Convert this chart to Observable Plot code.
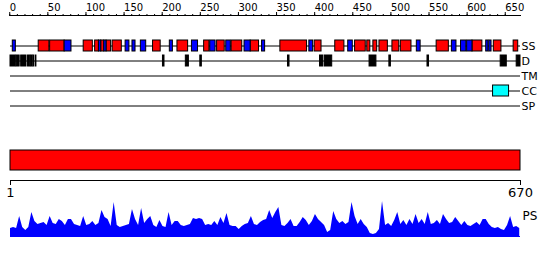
<!DOCTYPE html>
<html><head><meta charset="utf-8">
<script src="https://cdn.jsdelivr.net/npm/d3@7"></script>
<script src="https://cdn.jsdelivr.net/npm/@observablehq/plot@0.6"></script>
<style>
body{margin:0;background:#fff;}
#chart{position:relative;width:550px;height:260px;font-family:"DejaVu Sans",sans-serif;}
#chart svg{position:absolute;left:0;}
</style></head><body><div id="chart"></div>
<script>
const seqLength = 670;
const tracks = ["SS","D","TM","CC","SP"];
const majorTicks = [0,50,100,150,200,250,300,350,400,450,500,550,600,650];
const minorTicks = d3.range(0, 651, 10);
const endTicks = [1, 670];

const helixStart = [38,53,97,112,120,127,135,188,220,255,272,291,316,355,400,427,453,469,477,485,502,513,560,607,635,661];
const helixEnd   = [52,72,109,117,124,133,147,198,234,262,282,305,327,390,409,439,467,473,482,496,511,527,576,620,645,667];
const strandStart = [4,72,117,124,152,161,172,210,239,263,284,308,331,393,444,534,580,592,600,625,629];
const strandEnd   = [8,81,120,127,157,165,179,214,247,270,290,316,335,398,450,539,586,599,607,628,632];
const disorderStart = [1,9,15,24,28,31,34,201,231,250,365,407,413,472,498,548,644,665];
const disorderEnd   = [8,13,22,27,30,32,35,203,235,252,367,411,423,481,500,550,652,670];
const coiledStart = [634];
const coiledEnd = [655];
const tmStart = [], tmEnd = [];
const spStart = [], spEnd = [];

// PS profile, read every 4 residues starting at residue 1
const psValues = [
 8,9,8,20,9,6,9,24,15,12,
 13,14,11,20,13,12,17,15,11,17,
 17,12,11,10,20,11,12,15,11,13,
 26,19,17,10,34,11,9,10,11,12,
 27,17,11,28,13,17,20,11,9,16,
 10,9,24,11,15,15,11,10,11,12,
 18,17,18,17,11,12,11,15,11,19,
 13,23,11,10,10,7,10,12,13,20,
 12,11,14,16,17,26,18,24,29,11,
 10,13,17,10,10,14,19,16,11,15,
 22,17,14,11,4,6,25,17,13,15,
 12,14,34,20,12,17,12,9,3,2,
 3,7,35,11,13,10,16,24,12,16,
 11,17,12,22,13,17,12,24,12,13,
 16,12,22,17,13,14,19,15,11,15,
 11,10,12,14,11,17,17,12,9,8,
 9,7,6,11,20,9,10,8
];
const psPositions = d3.range(1, seqLength, 4);

const seg = (s, e, track) => s.map((v, i) => ({start: v, end: e[i], track}));
const helices = seg(helixStart, helixEnd, "SS");
const strands = seg(strandStart, strandEnd, "SS");
const disorder = seg(disorderStart, disorderEnd, "D");
const coiled = seg(coiledStart, coiledEnd, "CC");
const tms = seg(tmStart, tmEnd, "TM");
const sps = seg(spStart, spEnd, "SP");
const proteinBar = [{start: 1, end: seqLength, track: "protein"}];
const psData = psValues.map((v, i) => ({pos: psPositions[i], v}));

const common = {
  width: 550, marginLeft: 10, marginRight: 30,
  style: {background: "none", overflow: "visible", fontFamily: "DejaVu Sans, sans-serif", color: "black"}
};

const plotA = Plot.plot({
  ...common, height: 115, marginTop: 15, marginBottom: 0,
  x: {domain: [1, seqLength]},
  y: {type: "band", domain: tracks, range: [37.5, 112.5], paddingInner: 0.3, paddingOuter: 0.15, axis: null},
  marks: [
    Plot.frame({anchor: "top"}),
    Plot.axisX({anchor: "top", ticks: minorTicks, tickSize: 2, tickFormat: () => ""}),
    Plot.axisX({anchor: "top", ticks: majorTicks, tickSize: 4, tickPadding: 1, textAnchor: "start", fontSize: 10, tickFormat: d => String(d)}),
    Plot.ruleY(tracks, {y: d => d, x1: 1, x2: seqLength, stroke: "black"}),
    Plot.barX(helices, {x1: "start", x2: "end", y: "track", fill: "#ff0000", stroke: "black"}),
    Plot.barX(strands, {x1: "start", x2: "end", y: "track", fill: "#0000ff", stroke: "black"}),
    Plot.barX(disorder, {x1: "start", x2: "end", y: "track", fill: "black", stroke: "black"}),
    Plot.barX(tms, {x1: "start", x2: "end", y: "track", fill: "#ffff00", stroke: "black"}),
    Plot.barX(coiled, {x1: "start", x2: "end", y: "track", fill: "#00ffff", stroke: "black"}),
    Plot.barX(sps, {x1: "start", x2: "end", y: "track", fill: "#00ff00", stroke: "black"}),
    Plot.text(tracks, {x: seqLength, y: d => d, text: d => d, textAnchor: "start", dx: 1, fontSize: 11})
  ]
});

const plotB = Plot.plot({
  ...common, height: 90, marginTop: 0, marginBottom: 25,
  x: {domain: [1, seqLength]},
  y: {type: "band", domain: ["protein"], range: [35, 55.5], padding: 0, axis: null},
  marks: [
    Plot.barX(proteinBar, {x1: "start", x2: "end", y: "track", fill: "#ff0000", stroke: "black"}),
    Plot.frame({anchor: "bottom"}),
    Plot.axisX({anchor: "bottom", ticks: endTicks, tickSize: 5, tickPadding: 2, fontSize: 13, tickFormat: d => String(d)})
  ]
});

const plotC = Plot.plot({
  ...common, height: 70, marginTop: 11, marginBottom: 24,
  x: {domain: [1, seqLength], axis: null},
  y: {domain: [0, 35], axis: null},
  marks: [
    Plot.areaY(psData, {x: "pos", y: "v", fill: "#0000ff"}),
    Plot.ruleY([0], {stroke: "#0000ff"}),
    Plot.text(["PS"], {frameAnchor: "top-right", text: d => d, textAnchor: "start", dx: 2, dy: 10, fontSize: 12})
  ]
});

const chart = document.getElementById("chart");
[[plotA, 0], [plotB, 115], [plotC, 190]].forEach(([p, top]) => {
  p.style.top = top + "px";
  chart.appendChild(p);
});
</script></body></html>
